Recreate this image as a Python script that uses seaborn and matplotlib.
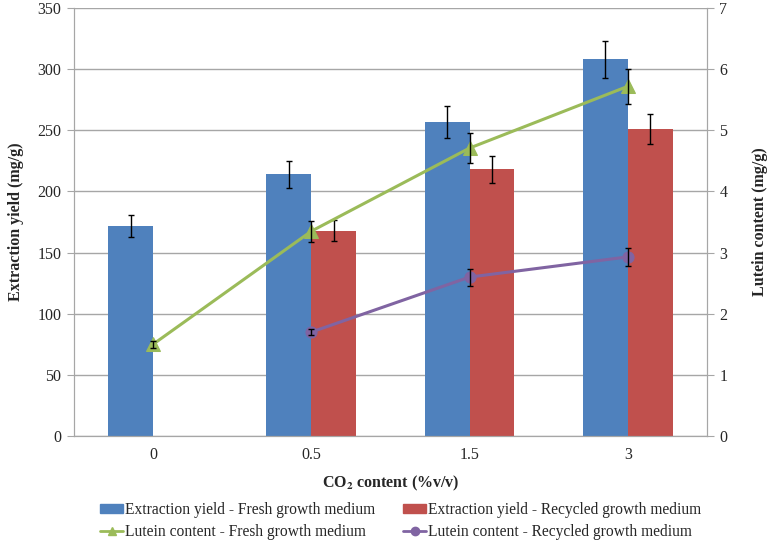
"""Rendement d'extraction (barres) et teneur en lutéine (lignes) selon le CO2."""

import numpy as np
import pandas as pd
import matplotlib.pyplot as plt
import seaborn as sns
from matplotlib.patches import Patch
from matplotlib.lines import Line2D

# Données
co2_levels = ["0", "0.5", "1.5", "3"]
yield_fresh = [172, 214, 257, 308]
yield_fresh_err = [9, 11, 13, 15]
yield_recycled = [np.nan, 168, 218, 251]
yield_recycled_err = [np.nan, 8.5, 11, 12.5]
lutein_fresh = [1.50, 3.35, 4.71, 5.72]
lutein_fresh_err = [0.06, 0.17, 0.24, 0.29]
lutein_recycled = [np.nan, 1.70, 2.60, 2.93]
lutein_recycled_err = [np.nan, 0.05, 0.14, 0.15]

BLUE = "#4F81BD"
RED = "#C0504D"
GREEN = "#9BBB59"
PURPLE = "#8064A2"
GRID = "#A6A6A6"
FS = 11.5

sns.set_style("white")
plt.rcParams["font.family"] = ["Liberation Serif", "DejaVu Serif"]
plt.rcParams["mathtext.fontset"] = "stix"

bars = pd.DataFrame({
    "co2": co2_levels * 2,
    "yield": yield_fresh + yield_recycled,
    "medium": ["Fresh"] * 4 + ["Recycled"] * 4,
})

fig = plt.figure(figsize=(7.7, 5.42), dpi=100)
ax = fig.add_axes([0.096, 0.1956, 0.822, 0.7894])

bar_w = 0.566
sns.barplot(data=bars, x="co2", y="yield", hue="medium", order=co2_levels,
            hue_order=["Fresh", "Recycled"], palette=[BLUE, RED],
            width=bar_w, errorbar=None, ax=ax, legend=False, saturation=1,
            linewidth=0)

pos = np.arange(len(co2_levels))
off = bar_w / 4
ax.errorbar(pos - off, yield_fresh, yerr=yield_fresh_err, fmt="none",
            ecolor="black", elinewidth=1, capsize=2.5, capthick=1, zorder=5)
ax.errorbar(pos + off, yield_recycled, yerr=yield_recycled_err, fmt="none",
            ecolor="black", elinewidth=1, capsize=2.5, capthick=1, zorder=5)

ax.set_ylim(0, 350)
ax.set_yticks(range(0, 351, 50))
ax.set_xlim(-0.5, 3.5)
ax.set_xticks(np.arange(-0.5, 3.6, 1), minor=True)
ax.tick_params(axis="x", which="major", length=0, pad=8, labelsize=FS)
ax.tick_params(axis="x", which="minor", length=5, color=GRID, direction="out")
ax.tick_params(axis="y", length=5, color=GRID, direction="out", left=True,
               labelsize=FS, pad=4)
ax.yaxis.grid(True, color=GRID, lw=1)
ax.set_axisbelow(True)
for side in ["left", "bottom", "right"]:
    ax.spines[side].set_color(GRID)
ax.spines["top"].set_visible(False)
ax.set_ylabel("Extraction yield (mg/g)", fontsize=FS, fontweight="bold",
              labelpad=10)
ax.set_xlabel(r"CO$_{\mathbf{2}}$ content (%v/v)", fontsize=FS,
              fontweight="bold", labelpad=8)

# Axe secondaire : teneur en lutéine
ax2 = ax.twinx()
sns.lineplot(x=pos, y=lutein_fresh, color=GREEN, marker="^", markersize=10,
             markeredgecolor=GREEN, lw=2.2, ax=ax2, zorder=6)
sns.lineplot(x=pos, y=lutein_recycled, color=PURPLE, marker="o", markersize=8,
             markeredgecolor=PURPLE, lw=2.2, ax=ax2, zorder=6)
ax2.errorbar(pos, lutein_fresh, yerr=lutein_fresh_err, fmt="none",
             ecolor="black", elinewidth=1, capsize=2.5, capthick=1, zorder=7)
ax2.errorbar(pos, lutein_recycled, yerr=lutein_recycled_err, fmt="none",
             ecolor="black", elinewidth=1, capsize=2.5, capthick=1, zorder=7)
ax2.set_ylim(0, 7)
ax2.set_yticks(range(0, 8))
ax2.set_xlim(-0.5, 3.5)
ax2.tick_params(axis="y", length=5, color=GRID, direction="out", right=True,
                labelsize=FS, pad=4)
for side in ["left", "bottom", "right"]:
    ax2.spines[side].set_color(GRID)
ax2.spines["top"].set_visible(False)
ax2.set_ylabel("Lutein content (mg/g)", fontsize=FS, fontweight="bold",
               labelpad=18)

handles = [
    Patch(color=BLUE, label="Extraction yield - Fresh growth medium"),
    Line2D([], [], color=GREEN, marker="^", lw=2, markersize=6,
           label="Lutein content - Fresh growth medium"),
    Patch(color=RED, label="Extraction yield - Recycled growth medium"),
    Line2D([], [], color=PURPLE, marker="o", lw=2, markersize=6,
           label="Lutein content - Recycled growth medium"),
]
fig.legend(handles=handles, ncol=2, loc="lower center",
           bbox_to_anchor=(0.52, -0.022), frameon=False, fontsize=11.2,
           handlelength=1.5, handletextpad=0.1, columnspacing=1.8,
           labelspacing=0.4, handleheight=0.5)

fig.savefig("out.png", dpi=100)
